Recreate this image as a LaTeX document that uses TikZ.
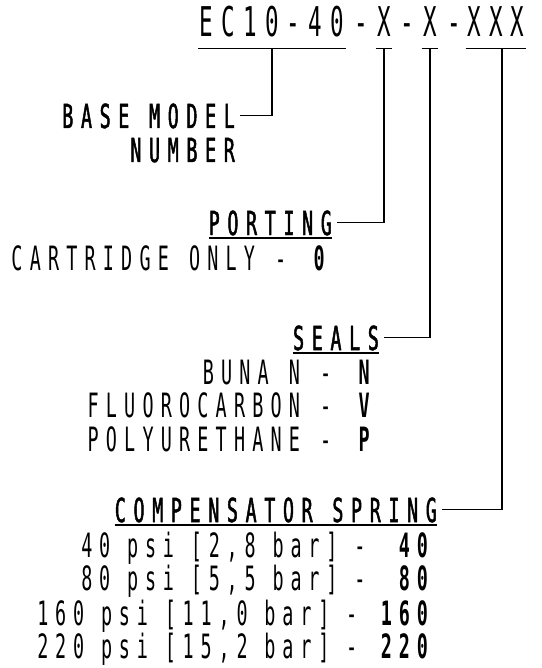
\documentclass[tikz,border=0pt]{standalone}
\usepackage{fontspec}
\usepackage{tikz}
\newfontfamily\cadfont{DejaVu Sans Mono}[FakeStretch=0.55,LetterSpace=21.5]
\newfontfamily\springfont{DejaVu Sans Mono}[FakeStretch=0.55,LetterSpace=20.5]
\newfontfamily\headfont{DejaVu Sans Mono}[FakeStretch=0.55,LetterSpace=23.5,FakeBold=1.5]
\newfontfamily\titlefont{DejaVu Sans Mono}[FakeStretch=0.55,LetterSpace=20]
\newcommand\headsize{\headfont\fontsize{33}{33}\selectfont\spaceskip=0.6em\relax}
\newcommand\optsize{\cadfont\fontsize{33.5}{33.5}\selectfont\spaceskip=0.6em\relax}
\newcommand\springsize{\springfont\fontsize{33.5}{33.5}\selectfont\spaceskip=0.5em\relax}

\begin{document}
\begin{tikzpicture}[x=1pt,y=-1pt,line cap=butt,
  code/.style={font=\titlefont\fontsize{41}{41}\selectfont,anchor=base,inner xsep=1.5pt,inner ysep=11pt,text depth=0pt},
  heading/.style={font=\headsize,anchor=base east,inner sep=0pt,text depth=0pt},
  option/.style={font=\optsize,anchor=base east,inner sep=0pt},
  spring/.style={font=\springsize,anchor=base east,inner sep=0pt},
  link/.style={line width=1.2pt,shorten <=5pt},
  uline/.style={line width=1.8pt}]
\useasboundingbox (0,0) rectangle (541,668);
% model code
\node[code] (mBase) at (272,37) {EC10-40};
\node[code] (dashA) at (361,37) {-};
\node[code] (mPort) at (384,37) {X};
\node[code] (dashB) at (407,37) {-};
\node[code] (mSeal) at (430,37) {X};
\node[code] (dashC) at (454,37) {-};
\node[code] (mSpring) at (496,37) {XXX};
\foreach \n in {mBase,mPort,mSeal,mSpring}
  \draw[line width=1.2pt] (\n.south west) -- (\n.south east);
% headings
\node[heading] (capBase) at (235,128) {BASE MODEL};
\node[heading] (capNum) at (235,162) {NUMBER};
\node[heading] (capPort) at (332,235) {PORTING};
\node[option] (optPort) at (332,270) {CARTRIDGE ONLY - \textbf{0}};
\node[heading] (capSeal) at (379,350) {SEALS};
\node[option] (optN) at (377,384) {BUNA N - \textbf{N}};
\node[option] (optV) at (377,417) {FLUOROCARBON - \textbf{V}};
\node[option] (optP) at (377,451) {POLYURETHANE - \textbf{P}};
\node[heading] (capSpring) at (437,522) {COMPENSATOR SPRING};
\node[spring] (opt40) at (435,557) {40 psi [2,8 bar] -\ \ \textbf{40}};
\node[spring] (opt80) at (435,590) {80 psi [5,5 bar] -\ \ \textbf{80}};
\node[spring] (opt160) at (435,625) {160 psi [11,0 bar] - \textbf{160}};
\node[spring] (opt220) at (435,658) {220 psi [15,2 bar] - \textbf{220}};
\foreach \n in {capPort,capSeal,capSpring}
  \draw[uline] ([yshift=-3pt]\n.base west) -- ([yshift=-3pt]\n.base east);
% leaders
\draw[link] (capBase.east) -| (mBase.south);
\draw[link] (capPort.east) -| (mPort.south);
\draw[link] (capSeal.east) -| (mSeal.south);
\draw[link] (capSpring.east) -| ([xshift=6pt]mSpring.south);
\end{tikzpicture}
\end{document}
